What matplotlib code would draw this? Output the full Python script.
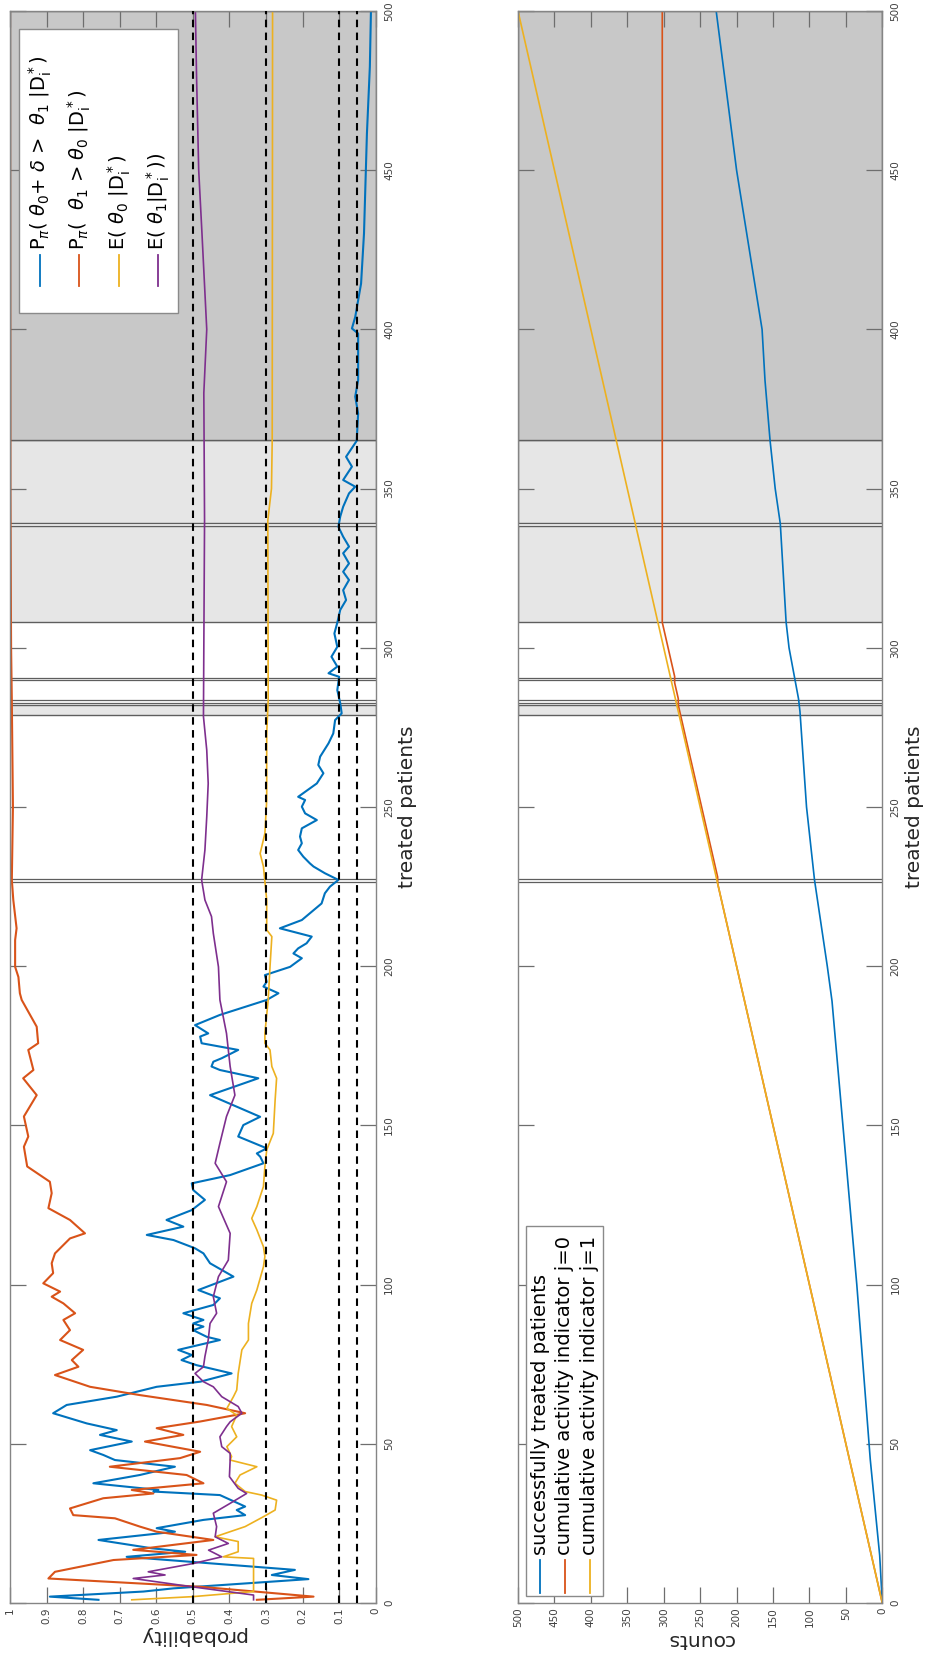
import matplotlib
matplotlib.use('Agg')
import matplotlib.pyplot as plt
from matplotlib.patches import Rectangle
from matplotlib.lines import Line2D

# ---------------- data ----------------
# probability panel (treated patients, value)
p_blue = [1, 2, 3.6, 4.6, 7.5, 8.8, 10.4, 14.5, 16.1, 17.2, 19.8, 22.4, 23.5, 26.1, 27.6, 29.2, 30.3,
          33.9, 35.0, 35.5, 37.6, 40.2, 42.8, 44.9, 46.5, 48.0, 50.7, 52.8, 54.3, 56.4, 59.6, 62.2,
          64.8, 67.9, 69.5, 72.1, 74.7, 76.3, 77.9, 79.5, 82.6, 83.6, 85.7, 86.8, 87.8, 88.9, 91.0,
          93.6, 95.7, 98.3, 102.5, 106.7, 109.8, 111.4, 114.0, 115.6, 118.2, 120.3, 123.4, 126.6,
          129.7, 131.8, 134.4, 138.1, 140.2, 141.2, 142.8, 146.5, 150.1, 152.7, 159.5, 164.8, 167.4,
          168.5, 170.0, 171.1, 173.7, 175.8, 177.9, 178.9, 181.5, 184.7, 189.4, 191.5, 193.6, 195.1,
          197.2, 199.8, 202.5, 204.0, 205.6, 207.2, 209.3, 211.9, 214.5, 217.6, 219.7, 222.9, 225.0,
          227.1, 229.2, 231.3, 232.3, 234.4, 236.5, 238.6, 240.7, 243.3, 245.9, 248.0, 250.1, 252.2,
          253.2, 257.4, 260.6, 263.2, 265.8, 270.0, 273.1, 277.3, 279.4, 282.6, 286.7, 290.9, 292.0,
          294.1, 297.2, 300.3, 304.5, 307.9, 311.9, 315.0, 318.1, 321.3, 323.9, 326.5, 329.7, 331.8,
          334.9, 338.0, 341.2, 344.3, 348.5, 350.6, 352.7, 356.9, 360.0, 365.0, 373.6, 378.9, 384.1,
          398.7, 400.3, 403.9, 414.4, 430.1, 450.0, 461.5, 482.5, 500]
v_blue = [0.758, 0.891, 0.635, 0.553, 0.184, 0.284, 0.221, 0.681, 0.521, 0.613, 0.758, 0.549, 0.599,
          0.471, 0.357, 0.380, 0.357, 0.426, 0.608, 0.594, 0.772, 0.645, 0.549, 0.713, 0.745, 0.781,
          0.667, 0.754, 0.708, 0.790, 0.882, 0.845, 0.708, 0.599, 0.480, 0.394, 0.490, 0.531, 0.503,
          0.540, 0.426, 0.462, 0.499, 0.471, 0.499, 0.471, 0.526, 0.444, 0.426, 0.485, 0.389, 0.453,
          0.471, 0.494, 0.553, 0.626, 0.526, 0.572, 0.503, 0.467, 0.499, 0.503, 0.398, 0.307, 0.316,
          0.325, 0.298, 0.376, 0.362, 0.316, 0.453, 0.321, 0.426, 0.449, 0.444, 0.421, 0.376, 0.476,
          0.480, 0.458, 0.494, 0.426, 0.298, 0.266, 0.307, 0.298, 0.303, 0.234, 0.202, 0.225, 0.212,
          0.189, 0.175, 0.262, 0.202, 0.170, 0.148, 0.139, 0.125, 0.102, 0.139, 0.170, 0.180, 0.198,
          0.212, 0.202, 0.207, 0.202, 0.161, 0.193, 0.202, 0.193, 0.212, 0.161, 0.143, 0.157, 0.152,
          0.129, 0.116, 0.111, 0.093, 0.097, 0.105, 0.100, 0.129, 0.105, 0.121, 0.105, 0.113, 0.105,
          0.097, 0.081, 0.089, 0.073, 0.089, 0.073, 0.089, 0.073, 0.089, 0.102, 0.097, 0.089, 0.073,
          0.056, 0.089, 0.065, 0.081, 0.052, 0.048, 0.056, 0.048, 0.048, 0.065, 0.056, 0.040, 0.032,
          0.027, 0.024, 0.016, 0.013]

p_orange = [1, 2, 5.1, 7.7, 9.8, 13.5, 15.1, 16.7, 19.8, 22.4, 24.0, 26.6, 27.6, 29.7, 32.9, 34.4,
            35.5, 37.6, 40.2, 42.8, 45.5, 47.5, 50.7, 52.8, 54.9, 57.0, 59.6, 62.2, 65.3, 67.9, 71.6,
            74.2, 76.3, 79.5, 82.6, 85.7, 88.9, 91.0, 94.1, 96.2, 97.8, 100.4, 103.6, 106.7, 109.8,
            114.5, 116.1, 120.3, 124.0, 128.7, 132.3, 137.1, 143.3, 146.5, 152.8, 159.5, 164.8,
            167.4, 173.7, 175.8, 181.0, 189.4, 191.5, 196.6, 199.8, 208.2, 211.9, 220.8, 227.1,
            250, 283, 300, 350, 500]
v_orange = [0.325, 0.170, 0.480, 0.895, 0.877, 0.717, 0.490, 0.663, 0.444, 0.599, 0.645, 0.713,
            0.827, 0.836, 0.745, 0.608, 0.667, 0.471, 0.517, 0.727, 0.535, 0.480, 0.631, 0.526,
            0.599, 0.480, 0.357, 0.462, 0.645, 0.781, 0.877, 0.813, 0.831, 0.800, 0.863, 0.836,
            0.854, 0.822, 0.854, 0.886, 0.863, 0.909, 0.882, 0.886, 0.877, 0.836, 0.795, 0.836,
            0.895, 0.886, 0.891, 0.953, 0.962, 0.950, 0.962, 0.927, 0.964, 0.936, 0.950, 0.923,
            0.927, 0.968, 0.973, 0.977, 0.986, 0.986, 0.982, 0.991, 0.995, 0.992, 0.995, 0.997,
            0.999, 1.0]

p_yellow = [1, 2, 3.6, 14.0, 14.5, 16.1, 19.3, 20.8, 24.0, 27.1, 29.2, 32.3, 33.9, 35.0, 37.6, 40.2,
            42.8, 44.9, 46.0, 49.1, 52.2, 55.4, 59.0, 61.1, 64.8, 66.9, 72.1, 79.5, 82.6, 87.8, 94.1,
            98.3, 105.6, 108.8, 111.9, 117.2, 120.8, 124.5, 130.8, 137.1, 142.3, 147.5, 158.0, 164.8,
            168.5, 173.7, 175.8, 178.9, 189.4, 199.8, 209.3, 211.4, 220.8, 231.3, 235.4, 241.7,
            252.2, 273.1, 283.6, 340, 350, 365, 500]
v_yellow = [0.667, 0.500, 0.334, 0.334, 0.417, 0.376, 0.376, 0.439, 0.357, 0.307, 0.275, 0.271,
            0.312, 0.357, 0.385, 0.371, 0.325, 0.398, 0.394, 0.407, 0.380, 0.394, 0.380, 0.407,
            0.389, 0.380, 0.376, 0.366, 0.348, 0.348, 0.339, 0.325, 0.307, 0.303, 0.307, 0.325,
            0.339, 0.325, 0.307, 0.303, 0.298, 0.280, 0.275, 0.271, 0.284, 0.289, 0.303, 0.303,
            0.294, 0.289, 0.284, 0.298, 0.298, 0.307, 0.316, 0.303, 0.298, 0.298, 0.294, 0.295,
            0.285, 0.283, 0.282]

p_purple = [1, 2.5, 5.1, 7.7, 8.8, 9.8, 12.4, 14.5, 16.6, 18.7, 20.8, 24.0, 28.2, 31.3, 34.4, 36.0,
            39.7, 44.9, 47.0, 49.1, 52.2, 55.4, 56.9, 59.6, 61.7, 64.8, 67.9, 69.5, 72.1, 74.2, 77.4,
            82.6, 87.8, 91.0, 96.2, 102.5, 107.7, 116.1, 124.5, 132.3, 138.1, 144.4, 152.8, 159.5,
            168.5, 178.9, 189.4, 199.8, 210.3, 215.6, 220.8, 227.1, 236.5, 246.9, 257.4, 267.9,
            278.4, 300, 340, 380, 400, 430, 450, 480, 500]
v_purple = [0.334, 0.334, 0.503, 0.663, 0.576, 0.622, 0.499, 0.421, 0.457, 0.403, 0.439, 0.435,
            0.444, 0.398, 0.353, 0.376, 0.400, 0.398, 0.398, 0.421, 0.426, 0.408, 0.398, 0.366,
            0.376, 0.421, 0.444, 0.471, 0.494, 0.471, 0.467, 0.458, 0.453, 0.435, 0.444, 0.430,
            0.403, 0.398, 0.430, 0.408, 0.439, 0.426, 0.408, 0.385, 0.398, 0.408, 0.426, 0.430,
            0.444, 0.449, 0.467, 0.476, 0.467, 0.462, 0.458, 0.462, 0.471, 0.470, 0.468, 0.470,
            0.462, 0.475, 0.484, 0.490, 0.493]

thresholds = [0.5, 0.3, 0.1, 0.05]

# counts panel
p_succ = [0, 15, 45, 100, 142, 189, 200, 227, 250, 280, 284, 300, 308, 339, 350, 365, 384, 400, 450, 500]
v_succ = [0, 3.6, 16.5, 35, 51, 69, 75.5, 93, 104, 113, 115, 128, 132, 140, 147, 154, 161, 165, 200, 228]
p_j0 = [0, 226, 228, 282, 284, 289, 291, 308, 500]
v_j0 = [0, 226, 226, 280, 280, 285, 285, 302, 302]
p_j1 = [0, 500]
v_j1 = [0, 500]

# shaded phases (treated patients) and single-step markers
span_lo = [279.0, 308.0, 339.1, 365.3]
span_hi = [282.0, 338.3, 365.3, 500.0]
span_kind = ['light', 'light', 'light', 'dark']
mark_lines = [226.5, 227.4, 282.8, 283.6, 289.9, 290.6]

prob_ticks = [0, 0.1, 0.2, 0.3, 0.4, 0.5, 0.6, 0.7, 0.8, 0.9, 1]
prob_ticklabels = ['0', '0.1', '0.2', '0.3', '0.4', '0.5', '0.6', '0.7', '0.8', '0.9', '1']
count_ticks = [0, 50, 100, 150, 200, 250, 300, 350, 400, 450, 500]
patient_ticks = [0, 50, 100, 150, 200, 250, 300, 350, 400, 450, 500]

labels_prob = [r'P$_\pi$( $\theta_\mathrm{0}$+ $\delta$ >  $\theta_\mathrm{1}$ |D$_\mathrm{i}^*$)',
               r'P$_\pi$(  $\theta_\mathrm{1}$ > $\theta_\mathrm{0}$ |D$_\mathrm{i}^*$)',
               r'E( $\theta_\mathrm{0}$ |D$_\mathrm{i}^*$)',
               r'E( $\theta_\mathrm{1}$|D$_\mathrm{i}^*$))']
labels_count = ['successfully treated patients',
                'cumulative activity indicator j=0',
                'cumulative activity indicator j=1']

# ---------------- style ----------------
C_BLUE, C_ORANGE, C_YELLOW, C_PURPLE = '#0072BD', '#D95319', '#EDB120', '#7E2F8E'
SPAN_COL = {'light': '#e6e6e6', 'dark': '#c8c8c8'}

plt.rcParams['font.family'] = ['DejaVu Sans']
plt.rcParams['ytick.alignment'] = 'center'
plt.rcParams['mathtext.fontset'] = 'dejavusans'

W, H = 926, 1659
fig = plt.figure(figsize=(W / 100, H / 100), dpi=100)


def fx(x):
    return x / W


def fy(y):
    return 1 - y / H


ax1 = fig.add_axes([fx(10), fy(1603), (375.7 - 10) / W, (1603 - 11) / H])
ax2 = fig.add_axes([fx(518), fy(1603), (882.3 - 518) / W, (1603 - 11) / H])


def style(ax, xlim, xticks, xticklabels, xlabel):
    ax.set_xlim(*xlim)
    ax.set_ylim(0, 500)
    ax.set_xticks(xticks)
    ax.set_xticklabels(xticklabels)
    ax.set_yticks(patient_ticks)
    ax.set_yticklabels([str(t) for t in patient_ticks])
    ax.tick_params(axis='both', which='both', direction='in', length=11.5, width=0.9,
                   color='#6e6e6e', labelsize=7.5, labelcolor='#404040',
                   top=True, bottom=True, left=True, right=True)
    ax.tick_params(axis='x', pad=3, labelrotation=90)
    ax.tick_params(axis='y', labelleft=False, labelright=True, pad=6, labelrotation=90)
    for s in ax.spines.values():
        s.set_color('#858585')
        s.set_linewidth(1.0)
    ax.set_xlabel(xlabel, rotation=180, fontsize=14.5, labelpad=2, color='#262626')
    ax.yaxis.set_label_position('right')
    ax.set_ylabel('treated patients', fontsize=14.5, labelpad=3, color='#262626')
    for lo, hi, k in zip(span_lo, span_hi, span_kind):
        ax.axhspan(lo, hi, facecolor=SPAN_COL[k], edgecolor='#5e5e5e', lw=1.0, zorder=0.5)
    for m in mark_lines:
        ax.axhline(m, color='#5e5e5e', lw=0.9, zorder=0.6)


style(ax1, (1, 0), prob_ticks, prob_ticklabels, 'probability')
style(ax2, (500, 0), count_ticks, [str(t) for t in count_ticks], 'counts')

# probability panel
ax1.plot(v_blue, p_blue, color=C_BLUE, lw=1.5, zorder=2)
ax1.plot(v_orange, p_orange, color=C_ORANGE, lw=1.5, zorder=2)
ax1.plot(v_yellow, p_yellow, color=C_YELLOW, lw=1.2, zorder=2)
ax1.plot(v_purple, p_purple, color=C_PURPLE, lw=1.2, zorder=2)
for t in thresholds:
    ax1.axvline(t, color='black', lw=1.5, ls=(0, (3.6, 2.6)), zorder=3)

# counts panel
ax2.plot(v_succ, p_succ, color=C_BLUE, lw=1.2, zorder=2)
ax2.plot(v_j0, p_j0, color=C_ORANGE, lw=1.2, zorder=2)
ax2.plot(v_j1, p_j1, color=C_YELLOW, lw=1.2, zorder=2)


# ---------------- legends (rotated, drawn by hand) ----------------
def rot_legend(x0, x1, y0, y1, xs, line_y0, line_y1, text_y, colors, labels):
    fig.patches.append(Rectangle((fx(x0), fy(y1)), (x1 - x0) / W, (y1 - y0) / H,
                                 transform=fig.transFigure, facecolor='white',
                                 edgecolor='#8a8a8a', lw=1.0, zorder=5))
    for x, c, lab in zip(xs, colors, labels):
        fig.lines.append(Line2D([fx(x), fx(x)], [fy(line_y0), fy(line_y1)],
                                transform=fig.transFigure, color=c, lw=1.3, zorder=6))
        fig.text(fx(x), fy(text_y), lab, rotation=90, ha='center', va='bottom',
                 fontsize=14, color='black', zorder=7)


rot_legend(19, 178, 29, 313, [40, 79, 119, 158], 255, 286, 250,
           [C_BLUE, C_ORANGE, C_YELLOW, C_PURPLE], labels_prob)
rot_legend(526, 603, 1226, 1596, [540.3, 564.7, 589.7], 1560, 1593, 1555,
           [C_BLUE, C_ORANGE, C_YELLOW], labels_count)

fig.savefig('out.png', dpi=100)
